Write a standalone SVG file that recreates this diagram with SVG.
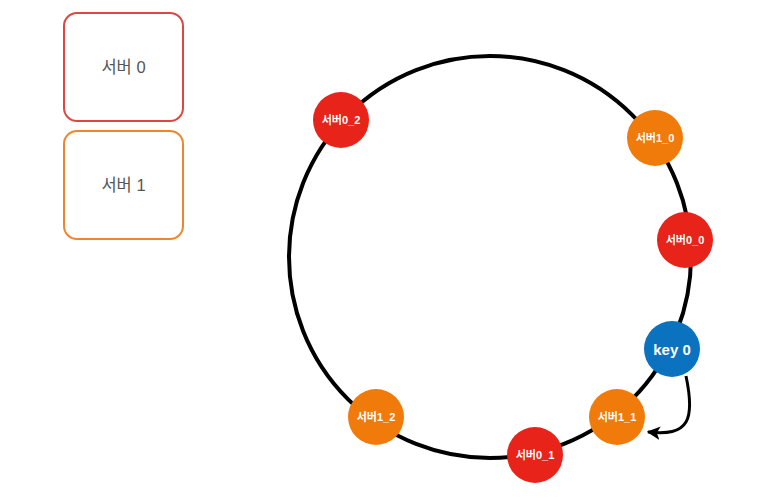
<svg xmlns="http://www.w3.org/2000/svg" width="781" height="498" viewBox="0 0 781 498">
<style>
.legend{fill:#fff;stroke-width:2}
.lt{font-family:"Liberation Sans","Noto Sans CJK KR",sans-serif;font-size:16.5px;fill:#555;text-anchor:middle;dominant-baseline:central}
.nt{font-family:"Liberation Sans","Noto Sans CJK KR",sans-serif;font-size:11px;font-weight:bold;fill:#fff;text-anchor:middle;dominant-baseline:central}
.kt{font-family:"Liberation Sans","Noto Sans CJK KR",sans-serif;font-size:15px;font-weight:bold;fill:#fff;text-anchor:middle;dominant-baseline:central}
.red{fill:#E8231A}
.orange{fill:#F07B0A}
.blue{fill:#0B72C0}
</style>
<defs>
<marker id="ah" viewBox="0 0 10 10" refX="9" refY="5" markerWidth="4.5" markerHeight="4.5" orient="auto">
<path d="M0,0 L10,5 L0,10 L2.5,5 Z" fill="#000"/>
</marker>
</defs>
<rect width="781" height="498" fill="#fff"/>
<g id="legend-server0"><rect class="legend" x="64" y="13" width="119" height="108" rx="13" stroke="#E0463F"/><text class="lt" x="123.5" y="67">서버 0</text></g>
<g id="legend-server1"><rect class="legend" x="64" y="131" width="119" height="108" rx="13" stroke="#EE8631"/><text class="lt" x="123.5" y="185">서버 1</text></g>
<g id="connectors">
<circle cx="490" cy="257" r="201" fill="none" stroke="#000" stroke-width="4"/>
<path d="M686,376 C690,395 692,412 686,422 C680,432 668,434 648,432" fill="none" stroke="#000" stroke-width="3" marker-end="url(#ah)"/>
</g>
<g id="n-s0_2"><circle class="red" cx="341" cy="120" r="28"/><text class="nt" x="341" y="120">서버0_2</text></g>
<g id="n-s1_0"><circle class="orange" cx="655" cy="138" r="28"/><text class="nt" x="655" y="138">서버1_0</text></g>
<g id="n-s0_0"><circle class="red" cx="685" cy="240" r="28"/><text class="nt" x="685" y="240">서버0_0</text></g>
<g id="n-key0"><circle class="blue" cx="672" cy="349" r="28"/><text class="kt" x="672" y="349">key 0</text></g>
<g id="n-s1_1"><circle class="orange" cx="617" cy="417" r="28"/><text class="nt" x="617" y="417">서버1_1</text></g>
<g id="n-s0_1"><circle class="red" cx="535" cy="455" r="28"/><text class="nt" x="535" y="455">서버0_1</text></g>
<g id="n-s1_2"><circle class="orange" cx="376" cy="417" r="28"/><text class="nt" x="376" y="417">서버1_2</text></g>
</svg>
